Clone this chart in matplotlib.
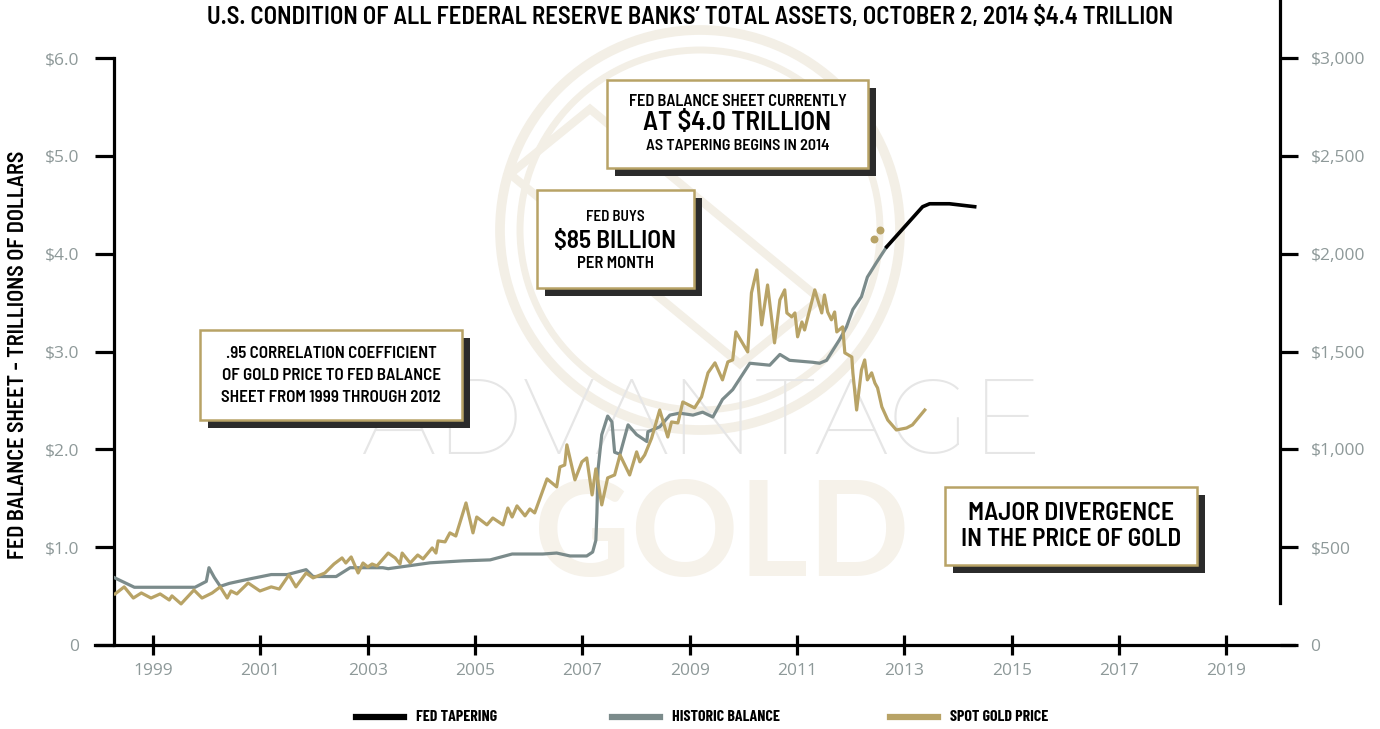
import matplotlib
matplotlib.use("Agg")
import matplotlib.pyplot as plt
from matplotlib import font_manager
from matplotlib.patches import Rectangle, Circle, Polygon
from matplotlib.lines import Line2D

# ----------------------------------------------------------------------
# Data
# ----------------------------------------------------------------------
balance_years = [1998.27, 1998.65, 1999.78, 1999.99, 2000.04, 2000.14, 2000.25,
                 2000.42, 2000.84, 2001.20, 2001.50, 2001.85, 2001.98, 2002.41,
                 2002.67, 2003.28, 2003.38, 2004.16, 2004.77, 2005.28, 2005.69,
                 2006.26, 2006.52, 2006.77, 2007.08, 2007.19, 2007.25, 2007.27,
                 2007.29, 2007.36, 2007.47, 2007.55, 2007.60, 2007.70, 2007.85,
                 2008.01, 2008.20, 2008.22, 2008.44, 2008.63, 2008.81, 2009.06,
                 2009.24, 2009.43, 2009.61, 2009.80, 2010.12, 2010.49, 2010.68,
                 2010.86, 2011.29, 2011.42, 2011.55, 2011.79, 2011.92, 2012.04,
                 2012.20, 2012.31, 2012.48, 2012.67]
balance = [0.69, 0.59, 0.59, 0.65, 0.79, 0.69, 0.60,
           0.63, 0.68, 0.72, 0.72, 0.77, 0.70, 0.70,
           0.79, 0.79, 0.78, 0.84, 0.86, 0.87, 0.93,
           0.93, 0.94, 0.91, 0.91, 0.95, 1.07, 1.35,
           1.79, 2.15, 2.34, 2.28, 1.97, 1.95, 2.25,
           2.15, 2.08, 2.18, 2.23, 2.35, 2.37, 2.35,
           2.38, 2.33, 2.51, 2.61, 2.88, 2.86, 2.97,
           2.91, 2.89, 2.88, 2.91, 3.12, 3.25, 3.43,
           3.56, 3.76, 3.91, 4.07]

taper_years = [2012.67, 2013.34, 2013.47, 2013.84, 2014.31]
taper = [4.07, 4.48, 4.51, 4.51, 4.48]

gold_years = [1998.29, 1998.46, 1998.63, 1998.78, 1998.96, 1999.13, 1999.30, 1999.35,
              1999.52, 1999.76, 1999.91, 2000.10, 2000.25, 2000.38, 2000.45, 2000.56,
              2000.77, 2000.99, 2001.20, 2001.35, 2001.53, 2001.66, 2001.85, 2001.98,
              2002.20, 2002.37, 2002.52, 2002.59, 2002.69, 2002.82, 2002.91, 2003.00,
              2003.08, 2003.17, 2003.38, 2003.51, 2003.60, 2003.64, 2003.79, 2003.93,
              2004.03, 2004.20, 2004.27, 2004.31, 2004.44, 2004.53, 2004.64, 2004.83,
              2004.96, 2005.03, 2005.22, 2005.33, 2005.52, 2005.61, 2005.69, 2005.78,
              2005.93, 2006.02, 2006.11, 2006.34, 2006.52, 2006.58, 2006.67, 2006.71,
              2006.86, 2006.99, 2007.08, 2007.18, 2007.25, 2007.36, 2007.47, 2007.60,
              2007.70, 2007.88, 2008.01, 2008.07, 2008.16, 2008.29, 2008.44, 2008.59,
              2008.66, 2008.78, 2008.87, 2009.09, 2009.22, 2009.34, 2009.47, 2009.61,
              2009.71, 2009.80, 2009.86, 2010.08, 2010.15, 2010.25, 2010.34, 2010.45,
              2010.58, 2010.68, 2010.77, 2010.81, 2010.90, 2010.96, 2011.01, 2011.09,
              2011.14, 2011.33, 2011.46, 2011.51, 2011.57, 2011.64, 2011.70, 2011.74,
              2011.85, 2011.89, 2012.02, 2012.04, 2012.11, 2012.20, 2012.26, 2012.31,
              2012.39, 2012.45, 2012.50, 2012.58, 2012.69, 2012.85, 2013.04, 2013.15,
              2013.38]
gold = [261, 297, 240, 266, 240, 261, 230, 251,
        210, 281, 240, 266, 297, 240, 276, 261,
        317, 276, 297, 286, 358, 297, 368, 343,
        368, 414, 445, 419, 450, 368, 419, 399,
        414, 404, 470, 445, 414, 470, 419, 460,
        440, 496, 470, 532, 527, 573, 557, 726,
        573, 654, 614, 649, 614, 700, 654, 711,
        660, 695, 675, 849, 808, 910, 920, 1023,
        844, 936, 956, 767, 900, 716, 854, 869,
        971, 869, 987, 936, 971, 1058, 1201, 1063,
        1140, 1135, 1242, 1212, 1268, 1391, 1442, 1355,
        1447, 1457, 1600, 1498, 1800, 1917, 1636, 1840,
        1544, 1764, 1815, 1697, 1677, 1697, 1575, 1651,
        1610, 1815, 1697, 1789, 1702, 1662, 1702, 1600,
        1626, 1493, 1472, 1391, 1201, 1406, 1457, 1355,
        1391, 1339, 1314, 1217, 1150, 1099, 1109, 1125,
        1201]

dot_years = [2012.54, 2012.43]
dot_gold = [2122, 2076]

year_ticks = list(range(1999, 2020, 2))
left_ticks = [0, 1, 2, 3, 4, 5, 6]
left_labels = ["0", "$1.0", "$2.0", "$3.0", "$4.0", "$5.0", "$6.0"]
right_ticks = [0, 500, 1000, 1500, 2000, 2500, 3000]
right_labels = ["0", "$500", "$1,000", "$1,500", "$2,000", "$2,500", "$3,000"]
legend_names = ["FED TAPERING", "HISTORIC BALANCE", "SPOT GOLD PRICE"]

TITLE = "U.S. CONDITION OF ALL FEDERAL RESERVE BANKS\u2019 TOTAL ASSETS, OCTOBER 2, 2014 $4.4 TRILLION"

# ----------------------------------------------------------------------
# Style
# ----------------------------------------------------------------------
GOLD = "#b8a366"
GRAY = "#7b8b8b"
LABEL_GRAY = "#8e9999"
SHADOW = "#2b2b2b"
RING = "#f3efe6"
W, H = 1380, 729

names = {f.name for f in font_manager.fontManager.ttflist}


def pick(*cands):
    for c in cands:
        if c in names:
            return c
    return "DejaVu Sans"


SEMI = pick("Barlow Semi Condensed", "Roboto")
COND = pick("Barlow Condensed", "Archivo Narrow", "Roboto")
NUMFONT = pick("Open Sans")
THIN = pick("Montserrat", "Raleway", "Lato")
BOLDMARK = pick("Lato")


def px(x, y):
    """pixel position (origin top-left) -> figure fraction"""
    return x / W, 1 - y / H


def note_box(fig, x0, y0, x1, y1, lines, off=8):
    sx, sy = px(x0 + off, y1 + off)
    fig.patches.append(Rectangle((sx, sy), (x1 - x0) / W, (y1 - y0) / H,
                                 transform=fig.transFigure, facecolor=SHADOW,
                                 edgecolor="none", zorder=5))
    bx, by = px(x0, y1)
    fig.patches.append(Rectangle((bx, by), (x1 - x0) / W, (y1 - y0) / H,
                                 transform=fig.transFigure, facecolor="white",
                                 edgecolor=GOLD, linewidth=1.8, zorder=6))
    cx = (x0 + x1) / 2
    for text, size, ty, spacing in lines:
        fig.text(*px(cx, ty), text, ha="center", va="center", fontsize=size,
                 fontweight="semibold", family=SEMI, color="black", zorder=7,
                 linespacing=spacing)


fig = plt.figure(figsize=(W / 100, H / 100), dpi=100)

# watermark logo, in inches so circles stay round (drawn behind the axes)
for r, lw in [(2.0, 7), (1.8, 5)]:
    fig.patches.append(Circle((7.0, 7.29 - 2.3), r, transform=fig.dpi_scale_trans,
                              fill=False, edgecolor=RING, linewidth=lw, zorder=-2))
fig.patches.append(Polygon([(5.1, 5.55), (5.9, 6.2), (8.2, 4.3), (7.4, 3.65)],
                           closed=True, transform=fig.dpi_scale_trans, fill=False,
                           edgecolor=RING, linewidth=6, zorder=-2))
fig.text(*px(702, 424), "ADVANTAGE", ha="center", va="center", fontsize=77,
         fontweight="normal", family=THIN, color="#e6e6e6", zorder=-1)
fig.text(*px(722, 538), "GOLD", ha="center", va="center", fontsize=96,
         fontweight="bold", family=BOLDMARK, color="#f6f2ea", zorder=-1)

L, R = 114 / W, 1280 / W
B, T = 1 - 645 / H, 1 - 58 / H
ax = fig.add_axes([L, B, R - L, T - B])
ax.patch.set_alpha(0)
ax.set_xlim(1998.27, 2020.0)
ax.set_ylim(0, 6)

ax2 = ax.twinx()
ax2.set_ylim(0, 3000)

# lines
ax.plot(balance_years, balance, color=GRAY, linewidth=2.3, label="HISTORIC BALANCE", zorder=3)
ax.plot(taper_years, taper, color="black", linewidth=2.6, label="FED TAPERING", zorder=4)
ax2.plot(gold_years, gold, color=GOLD, linewidth=2.3, label="SPOT GOLD PRICE", zorder=3)
ax2.scatter(dot_years, dot_gold, s=22, color=GOLD, zorder=3)

# spines and ticks
for s in ["top", "right"]:
    ax.spines[s].set_visible(False)
for s in ["top", "left", "bottom"]:
    ax2.spines[s].set_visible(False)
ax.spines["left"].set_linewidth(2.3)
ax.spines["bottom"].set_linewidth(2.3)
ax.spines["bottom"].set_bounds(1997.92, 2020.27)
ax2.spines["right"].set_linewidth(2.3)
ax2.spines["right"].set_bounds(215, 3297)

ax.set_yticks(left_ticks)
ax.set_yticklabels(left_labels)
ax.set_xticks(year_ticks)
ax.set_xticklabels([str(y) for y in year_ticks])
ax.tick_params(axis="y", direction="out", length=14, width=2.3, pad=11,
               labelsize=12.5, labelcolor=LABEL_GRAY)
ax.tick_params(axis="x", direction="inout", length=14, width=2.3, pad=6,
               labelsize=12.5, labelcolor=LABEL_GRAY)
ax2.set_yticks(right_ticks)
ax2.set_yticklabels(right_labels)
ax2.tick_params(axis="y", direction="out", length=13, width=2.3, pad=9,
                labelsize=12.5, labelcolor=LABEL_GRAY)
for lab in ax.get_xticklabels() + ax.get_yticklabels() + ax2.get_yticklabels():
    lab.set_family(NUMFONT)

ax.set_ylabel("FED BALANCE SHEET - TRILLIONS OF DOLLARS", fontsize=16, color="black",
              family=SEMI, fontweight="semibold", va="center")
ax.yaxis.set_label_coords(-0.0823, 0.494)

fig.text(0.5, 1 - 18 / H, TITLE, ha="center", va="center", fontsize=17.8, color="black",
         family=SEMI, fontweight="semibold")

# annotation boxes
note_box(fig, 607, 80, 868, 168, [
    ("FED BALANCE SHEET CURRENTLY", 11.8, 101, 1.2),
    ("AT $4.0 TRILLION", 19.6, 123, 1.2),
    ("AS TAPERING BEGINS IN 2014", 11.5, 146, 1.2),
])
note_box(fig, 537, 190, 694, 288, [
    ("FED BUYS", 10.8, 217, 1.2),
    ("$85 BILLION", 18.3, 241, 1.2),
    ("PER MONTH", 12.0, 264, 1.2),
])
note_box(fig, 200, 330, 462, 420, [
    (".95 CORRELATION COEFFICIENT\nOF GOLD PRICE TO FED BALANCE\n"
     "SHEET FROM 1999 THROUGH 2012", 12.2, 375.5, 1.58),
])
note_box(fig, 945, 487, 1197, 565, [
    ("MAJOR DIVERGENCE", 18.5, 513, 1.2),
    ("IN THE PRICE OF GOLD", 18.2, 539, 1.2),
])

# legend, laid out by hand to follow the reference spacing
legend_colors = ["black", GRAY, GOLD]
legend_x = [356, 612, 890]
for name, color, x in zip(legend_names, legend_colors, legend_x):
    fig.lines.append(Line2D([x / W, (x + 48) / W], [1 - 717 / H] * 2, color=color,
                            linewidth=4.5, transform=fig.transFigure))
    fig.text(*px(x + 60, 717), name, ha="left", va="center", fontsize=11.5,
             fontweight="bold", family=COND, color="black")

fig.savefig("out.png", dpi=100)
